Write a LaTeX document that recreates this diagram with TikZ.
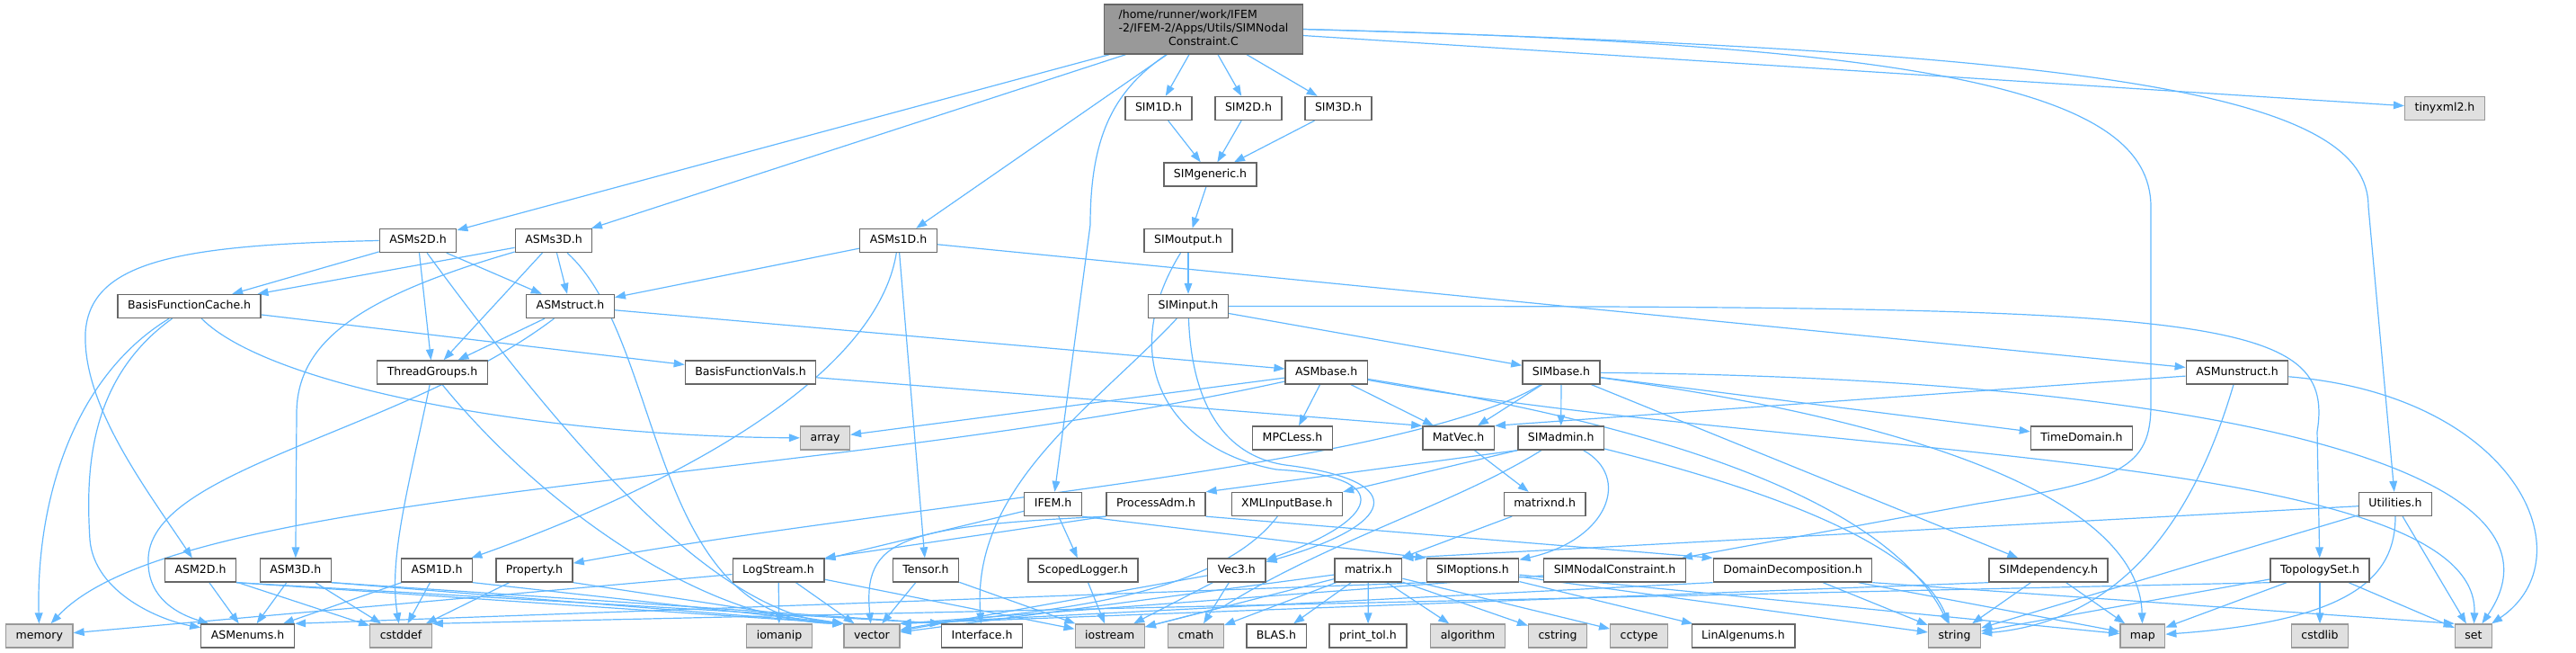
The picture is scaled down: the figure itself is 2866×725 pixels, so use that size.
\documentclass[tikz,border=0pt]{standalone}
\usepackage{fontspec}
\setmainfont{DejaVu Sans}
\usetikzlibrary{arrows.meta}
\definecolor{edgeblue}{HTML}{63B8FF}
\definecolor{extfill}{HTML}{E0E0E0}
\definecolor{extborder}{HTML}{999999}
\definecolor{topfill}{HTML}{999999}
\definecolor{nodeborder}{HTML}{666666}
\pgfdeclarelayer{bg}
\pgfsetlayers{bg,main}
\begin{document}
\begin{tikzpicture}[x=0.75pt,y=-0.75pt,
  hdr/.style={draw=nodeborder,fill=white,line width=1pt,inner xsep=8.25pt,inner ysep=0pt,
    minimum height=19.5pt,text height=7.1pt,text depth=2.1pt,font=\fontsize{9.4}{11.25}\selectfont},
  ext/.style={hdr,draw=extborder,fill=extfill},
  root/.style={hdr,fill=topfill,minimum width=165.75pt,minimum height=41.25pt,text height={},text depth={}},
  dep/.style={draw=edgeblue,line width=0.9pt,-{Triangle[length=9pt,width=6.5pt]}}]
\useasboundingbox (0,0) rectangle (2866,725);
% row 1
\node[root] (top) at (1339,32.5) {\begin{tabular}{@{}l@{}}/home/runner/work/IFEM\\-2/IFEM-2/Apps/Utils/SIMNodal\\\multicolumn{1}{@{}c@{}}{Constraint.C}\end{tabular}};
% row 2
\node[hdr] (simA) at (1289,120.5) {SIM1D.h};
\node[hdr] (simB) at (1389,120.5) {SIM2D.h};
\node[hdr] (simC) at (1489,120.5) {SIM3D.h};
\node[ext] (tinyxml) at (2720,120.5) {tinyxml2.h};
% row 3
\node[hdr] (simgeneric) at (1346.5,194) {SIMgeneric.h};
% row 4
\node[hdr] (asmsB) at (465,267.5) {ASMs2D.h};
\node[hdr] (asmsC) at (616,267.5) {ASMs3D.h};
\node[hdr] (asmsA) at (999.5,267.5) {ASMs1D.h};
\node[hdr] (simoutput) at (1322,267.5) {SIMoutput.h};
% row 5
\node[hdr] (bfc) at (210.6,340.5) {BasisFunctionCache.h};
\node[hdr] (asmstruct) at (634.5,340.5) {ASMstruct.h};
\node[hdr] (siminput) at (1322,340.5) {SIMinput.h};
% row 6
\node[hdr] (tg) at (481,414) {ThreadGroups.h};
\node[hdr] (bfv) at (835,414) {BasisFunctionVals.h};
\node[hdr] (asmbase) at (1475.6,414) {ASMbase.h};
\node[hdr] (simbase) at (1737,414) {SIMbase.h};
\node[hdr] (asmunstruct) at (2489,414) {ASMunstruct.h};
% row 7
\node[ext] (sarray) at (918,487) {array};
\node[hdr] (mpcless) at (1438,487) {MPCLess.h};
\node[hdr] (matvec) at (1622.6,487) {MatVec.h};
\node[hdr] (simadmin) at (1736.7,487) {SIMadmin.h};
\node[hdr] (timedomain) at (2316,487) {TimeDomain.h};
% row 8
\node[hdr] (ifem) at (1171.6,560.5) {IFEM.h};
\node[hdr] (processadm) at (1286,560.5) {ProcessAdm.h};
\node[hdr] (xmlib) at (1431.8,560.5) {XMLInputBase.h};
\node[hdr] (matrixnd) at (1718.6,560.5) {matrixnd.h};
\node[hdr] (util) at (2665,560.5) {Utilities.h};
% row 9
\node[hdr] (asmB) at (223,634) {ASM2D.h};
\node[hdr] (asmC) at (328.8,634) {ASM3D.h};
\node[hdr] (asmA) at (486,634) {ASM1D.h};
\node[hdr] (property) at (594.5,634) {Property.h};
\node[hdr] (logstream) at (866,634) {LogStream.h};
\node[hdr] (tensor) at (1030,634) {Tensor.h};
\node[hdr] (scopedlogger) at (1205,634) {ScopedLogger.h};
\node[hdr] (vecthree) at (1375.8,634) {Vec3.h};
\node[hdr] (matrix) at (1522.4,634) {matrix.h};
\node[hdr] (simoptions) at (1638.5,634) {SIMoptions.h};
\node[hdr] (snch) at (1796.5,634) {SIMNodalConstraint.h};
\node[hdr] (domdec) at (1994.5,634) {DomainDecomposition.h};
\node[hdr] (simdep) at (2279,634) {SIMdependency.h};
\node[hdr] (topo) at (2581,634) {TopologySet.h};
% row 10
\node[ext] (smemory) at (43.8,707) {memory};
\node[hdr] (asmenums) at (275.6,707) {ASMenums.h};
\node[ext] (scstddef) at (446,707) {cstddef};
\node[ext] (siomanip) at (867,707) {iomanip};
\node[ext] (svector) at (970,707) {vector};
\node[hdr] (interface) at (1092.6,707) {Interface.h};
\node[ext] (siostream) at (1234.7,707) {iostream};
\node[ext] (scmath) at (1330.5,707) {cmath};
\node[hdr] (blas) at (1420,707) {BLAS.h};
\node[hdr] (printtol) at (1522,707) {print\_tol.h};
\node[ext] (salgorithm) at (1633,707) {algorithm};
\node[ext] (scstring) at (1733,707) {cstring};
\node[ext] (scctype) at (1823.6,707) {cctype};
\node[hdr] (linalgenums) at (1939.5,707) {LinAlgenums.h};
\node[ext] (sstring) at (2174.5,707) {string};
\node[ext] (smap) at (2383.8,707) {map};
\node[ext] (scstdlib) at (2581,707) {cstdlib};
\node[ext] (sset) at (2752,707) {set};

\begin{pgfonlayer}{bg}
% root
\draw[dep] (top) -- (asmsB);
\draw[dep] (top) -- (asmsC);
\draw[dep] (top) -- (asmsA);
\draw[dep] (top) .. controls (1240,100) and (1213,150) .. (1213,250) -- (ifem);
\draw[dep] (top) -- (simA);
\draw[dep] (top) -- (simB);
\draw[dep] (top) -- (simC);
\draw[dep] (top) -- (tinyxml);
\draw[dep] (top.east) .. controls (2150,50) and (2393,100) .. (2393,230) -- (2393,450) .. controls (2393,520) and (2360,535) .. (2200,560) -- (snch);
\draw[dep] (top.east) .. controls (2350,58) and (2635,105) .. (2635,230) -- (util);
% SIM chain
\draw[dep] (simA) -- (simgeneric);
\draw[dep] (simB) -- (simgeneric);
\draw[dep] (simC) -- (simgeneric);
\draw[dep] (simgeneric) -- (simoutput);
\draw[dep] (simoutput) -- (siminput);
\draw[dep] (simoutput) .. controls (1240,400) and (1300,500) .. (1420,522) .. controls (1560,530) and (1530,580) .. (vecthree);
\draw[dep] (siminput) .. controls (1325,430) and (1350,505) .. (1430,517) .. controls (1575,535) and (1550,585) .. (vecthree);
\draw[dep] (siminput) -- (simbase);
\draw[dep] (siminput) .. controls (2450,340) and (2600,345) .. (2578,480) -- (topo);
\draw[dep] (siminput) .. controls (1220,450) and (1080,540) .. (interface);
% ASMs2D
\draw[dep] (asmsB.west) .. controls (200,272) and (100,290) .. (95,370) .. controls (92,450) and (160,540) .. (asmB);
\draw[dep] (asmsB) -- (bfc);
\draw[dep] (asmsB) -- (tg);
\draw[dep] (asmsB) -- (asmstruct);
\draw[dep] (asmsB) .. controls (600,450) and (780,680) .. (svector.north west);
% ASMs3D
\draw[dep] (asmsC) .. controls (400,330) and (330,380) .. (330,460) -- (asmC);
\draw[dep] (asmsC) -- (bfc);
\draw[dep] (asmsC) -- (tg);
\draw[dep] (asmsC) -- (asmstruct);
\draw[dep] (asmsC) .. controls (740,380) and (720,690) .. (svector.north west);
% ASMs1D
\draw[dep] (asmsA) -- (asmstruct);
\draw[dep] (asmsA) .. controls (975,420) and (750,540) .. (asmA);
\draw[dep] (asmsA) -- (tensor);
\draw[dep] (asmsA) -- (asmunstruct);
% BasisFunctionCache
\draw[dep] (bfc) -- (bfv);
\draw[dep] (bfc) .. controls (300,430) and (600,485) .. (sarray);
\draw[dep] (bfc) .. controls (80,420) and (40,560) .. (smemory);
\draw[dep] (bfc) .. controls (100,420) and (95,520) .. (100,600) .. controls (105,660) and (180,690) .. (asmenums);
% ASMstruct
\draw[dep] (asmstruct) -- (asmbase);
\draw[dep] (asmstruct) -- (tg);
\draw[dep] (asmstruct) .. controls (450,480) and (170,520) .. (165,620) .. controls (163,660) and (190,680) .. (asmenums);
% ThreadGroups
\draw[dep] (tg) .. controls (455,540) and (432,620) .. (scstddef);
\draw[dep] (tg) .. controls (600,560) and (780,690) .. (svector.north west);
% ASMbase
\draw[dep] (asmbase) -- (mpcless);
\draw[dep] (asmbase) -- (matvec);
\draw[dep] (asmbase) -- (sarray);
\draw[dep] (asmbase) .. controls (900,540) and (200,540) .. (smemory);
\draw[dep] (asmbase) .. controls (1700,450) and (2080,520) .. (sstring);
\draw[dep] (asmbase) .. controls (2000,510) and (2760,500) .. (sset);
% SIMbase
\draw[dep] (simbase) -- (simadmin);
\draw[dep] (simbase) -- (matvec);
\draw[dep] (simbase) .. controls (1560,520) and (1000,560) .. (property);
\draw[dep] (simbase) -- (timedomain);
\draw[dep] (simbase) -- (simdep);
\draw[dep] (simbase) .. controls (2150,470) and (2380,560) .. (smap);
\draw[dep] (simbase) .. controls (2450,420) and (2880,520) .. (sset);
% ASMunstruct
\draw[dep] (asmunstruct) -- (matvec.north east);
\draw[dep] (asmunstruct) .. controls (2440,580) and (2360,690) .. (sstring);
\draw[dep] (asmunstruct) .. controls (2800,440) and (2880,620) .. (sset);
% BasisFunctionVals, MatVec, matrixnd
\draw[dep] (bfv) -- (matvec.north west);
\draw[dep] (matvec) -- (matrixnd);
\draw[dep] (matrixnd) -- (matrix);
% SIMadmin
\draw[dep] (simadmin.south west) -- (processadm.north east);
\draw[dep] (simadmin.south west) -- (xmlib.north east);
\draw[dep] (simadmin) .. controls (1815,530) and (1790,600) .. (simoptions);
\draw[dep] (simadmin) .. controls (1620,560) and (1480,600) .. (1360,675) -- (siostream);
\draw[dep] (simadmin) .. controls (1950,540) and (2130,600) .. (sstring);
% IFEM, ProcessAdm, XMLInputBase
\draw[dep] (ifem) -- (logstream);
\draw[dep] (ifem) -- (scopedlogger);
\draw[dep] (ifem.south east) -- (simoptions.north west);
\draw[dep] (processadm.south west) -- (logstream.north east);
\draw[dep] (processadm.south west) .. controls (1000,585) and (960,600) .. (svector);
\draw[dep] (processadm.south east) -- (domdec.north west);
\draw[dep] (xmlib) .. controls (1340,680) and (1100,680) .. (svector);
% Utilities
\draw[dep] (util) -- (matrix.north east);
\draw[dep] (util) -- (sstring);
\draw[dep] (util) .. controls (2665,640) and (2620,690) .. (smap);
\draw[dep] (util) -- (sset);
% row 9 sources
\draw[dep] (asmB) -- (asmenums);
\draw[dep] (asmB) -- (scstddef);
\draw[dep] (asmB.south east) -- (svector.north west);
\draw[dep] (asmB.south east) -- (interface.north west);
\draw[dep] (asmC) -- (asmenums);
\draw[dep] (asmC) -- (scstddef);
\draw[dep] (asmC.south east) -- (svector.north west);
\draw[dep] (asmC.south east) -- (interface.north west);
\draw[dep] (asmA) -- (asmenums);
\draw[dep] (asmA) -- (scstddef);
\draw[dep] (asmA.south east) -- (svector.north west);
\draw[dep] (property) -- (scstddef);
\draw[dep] (property.south east) -- (svector.north west);
\draw[dep] (logstream) -- (smemory);
\draw[dep] (logstream) -- (siomanip);
\draw[dep] (logstream) -- (svector);
\draw[dep] (logstream) -- (siostream);
\draw[dep] (tensor) -- (svector);
\draw[dep] (tensor) -- (siostream);
\draw[dep] (scopedlogger) -- (siostream);
\draw[dep] (vecthree) -- (svector);
\draw[dep] (vecthree) -- (siostream);
\draw[dep] (vecthree) -- (scmath);
\draw[dep] (matrix) -- (svector);
\draw[dep] (matrix) -- (siostream);
\draw[dep] (matrix) -- (scmath);
\draw[dep] (matrix) -- (blas);
\draw[dep] (matrix) -- (printtol);
\draw[dep] (matrix) -- (salgorithm);
\draw[dep] (matrix) -- (scstring);
\draw[dep] (matrix) -- (scctype);
\draw[dep] (simoptions.south west) -- (asmenums.north east);
\draw[dep] (simoptions) -- (linalgenums);
\draw[dep] (simoptions) -- (sstring);
\draw[dep] (simoptions) -- (smap);
\draw[dep] (snch) -- (svector.north east);
\draw[dep] (domdec.south west) -- (svector.north east);
\draw[dep] (domdec) -- (sstring);
\draw[dep] (domdec) -- (smap);
\draw[dep] (domdec.south east) -- (sset.north west);
\draw[dep] (simdep.south west) -- (svector.north east);
\draw[dep] (simdep) -- (sstring);
\draw[dep] (simdep) -- (smap);
\draw[dep] (topo.south west) -- (scstddef.north east);
\draw[dep] (topo) -- (sstring);
\draw[dep] (topo) -- (smap);
\draw[dep] (topo) -- (scstdlib);
\draw[dep] (topo) -- (sset);
\end{pgfonlayer}
\end{tikzpicture}
\end{document}
